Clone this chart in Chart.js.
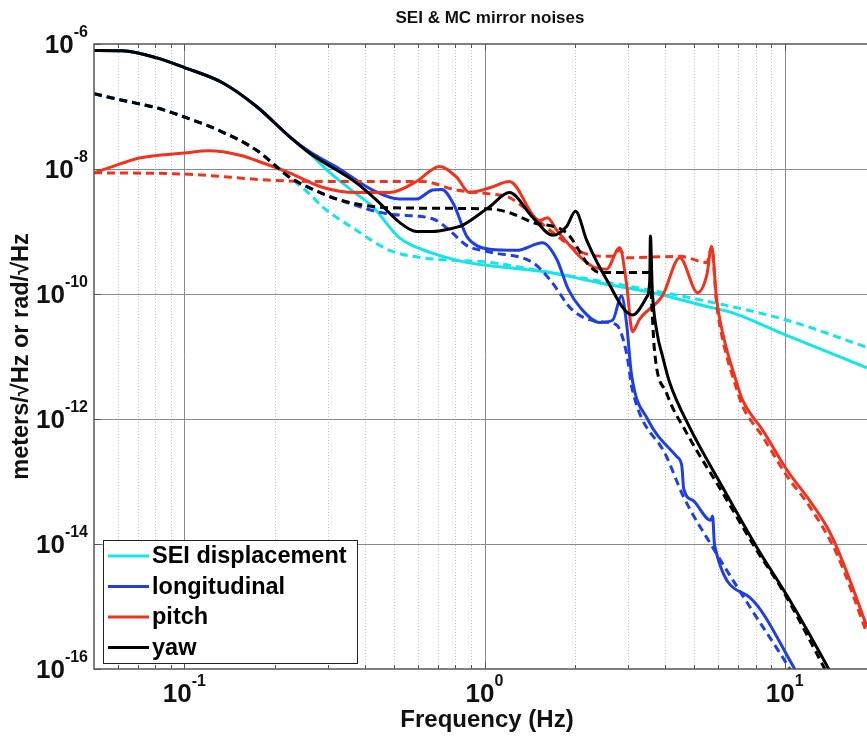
<!DOCTYPE html>
<html>
<head>
<meta charset="utf-8">
<script src="https://cdn.jsdelivr.net/npm/chart.js@4.4.1/dist/chart.umd.min.js"></script>
<style>
  html, body { margin: 0; padding: 0; background: #fff; overflow: hidden; }
  #noiseChart { display: block; }
</style>
</head>
<body>
<canvas id="noiseChart" width="867" height="736"></canvas>
<script>
// ---- data (frequency in Hz, amplitude spectral density) ----
const seiFreq = [0.05, 0.062, 0.081, 0.1, 0.134, 0.174, 0.224, 0.261, 0.304, 0.374, 0.424, 0.521, 0.671, 0.845, 1.0, 1.65, 2.42, 3.63, 5.5, 6.71, 10.1, 18.8];
const seiAsd = [7.9e-7, 7.8e-7, 6.0e-7, 4.2e-7, 2.4e-7, 1.0e-7, 3.3e-8, 1.8e-8, 8.9e-9, 4.0e-9, 2.5e-9, 7.9e-10, 4.5e-10, 3.3e-10, 2.9e-10, 2.2e-10, 1.5e-10, 1.05e-10, 6.3e-11, 5.0e-11, 2.2e-11, 6.6e-12];
const seiFreqDash = [0.05, 0.062, 0.081, 0.1, 0.134, 0.174, 0.224, 0.261, 0.288, 0.374, 0.482, 0.621, 1.04, 1.65, 3.11, 5.93, 10.2, 18.8];
const seiAsdDash = [1.6e-7, 1.26e-7, 9.5e-8, 6.8e-8, 3.9e-8, 2.0e-8, 7.4e-9, 4.0e-9, 2.5e-9, 1.05e-9, 5.0e-10, 3.8e-10, 3.2e-10, 2.2e-10, 1.3e-10, 7.1e-11, 3.8e-11, 1.4e-11];

const longFreq = [0.05, 0.062, 0.081, 0.1, 0.134, 0.174, 0.224, 0.261, 0.329, 0.424, 0.521, 0.593, 0.671, 0.72, 0.79, 0.871, 0.94, 1.04, 1.28, 1.56, 1.74, 1.9, 2.1, 2.42, 2.67, 2.86, 2.97, 3.09, 3.49, 4.37, 4.54, 4.61, 4.94, 5.67, 5.75, 5.84, 7.64, 10.8, 12];
const longAsd = [7.9e-7, 7.8e-7, 6.0e-7, 4.2e-7, 2.4e-7, 1.0e-7, 3.3e-8, 1.9e-8, 1.0e-8, 4.6e-9, 3.3e-9, 3.3e-9, 4.6e-9, 4.7e-9, 2.7e-9, 8.5e-10, 6.0e-10, 5.2e-10, 5.0e-10, 6.6e-10, 3.6e-10, 1.2e-10, 5.8e-11, 3.5e-11, 3.8e-11, 9.3e-11, 3.5e-11, 5.0e-12, 1.0e-12, 2.5e-13, 1.8e-13, 7.6e-14, 5.0e-14, 2.4e-14, 2.8e-14, 9.5e-15, 1.4e-15, 1.0e-16, 4e-17];
const longFreqDash = [0.05, 0.062, 0.081, 0.1, 0.134, 0.174, 0.224, 0.261, 0.329, 0.482, 0.671, 0.764, 0.871, 1.04, 1.445, 1.65, 1.965, 2.42, 2.75, 2.97, 3.11, 4.04, 4.61, 5.75, 7.64, 10.4, 12];
const longAsdDash = [1.6e-7, 1.26e-7, 9.5e-8, 6.8e-8, 3.9e-8, 2.0e-8, 7.4e-9, 5.0e-9, 3.2e-9, 1.9e-9, 1.6e-9, 1.05e-9, 6.0e-10, 4.7e-10, 3.2e-10, 1.7e-10, 5.5e-11, 3.6e-11, 3.2e-11, 1.15e-11, 2.9e-12, 2.5e-13, 5.6e-14, 8.9e-15, 1.0e-15, 1.0e-16, 3e-17];

const pitchFreq = [0.05, 0.0562, 0.0708, 0.1, 0.121, 0.153, 0.182, 0.224, 0.288, 0.374, 0.482, 0.593, 0.708, 0.807, 0.891, 1.04, 1.21, 1.525, 1.62, 1.74, 2.29, 2.55, 2.82, 2.97, 3.11, 3.29, 3.92, 4.47, 5.13, 5.5, 5.71, 5.93, 6.21, 6.92, 7.24, 8.45, 10.2, 12.1, 13.8, 14.9, 16.5, 18.8];
const pitchAsd = [8.7e-9, 1.05e-8, 1.5e-8, 1.8e-8, 1.95e-8, 1.66e-8, 1.26e-8, 8.7e-9, 5.1e-9, 4.2e-9, 4.2e-9, 6.3e-9, 1.1e-8, 7.4e-9, 4.2e-9, 5.0e-9, 6.3e-9, 1.5e-9, 1.66e-9, 1.05e-9, 2.75e-10, 2.5e-10, 5.5e-10, 1.5e-10, 2.5e-11, 4.0e-11, 9.5e-11, 3.8e-10, 1.05e-10, 2.0e-10, 5.8e-10, 8.3e-11, 2.4e-11, 3.8e-12, 2.0e-12, 6.6e-13, 1.5e-13, 5.0e-14, 1.9e-14, 8.9e-15, 2.6e-15, 4.7e-16];
const pitchFreqDash = [0.05, 0.1, 0.197, 0.288, 0.621, 0.807, 1.04, 1.21, 1.65, 2.12, 2.65, 2.82, 2.97, 4.47, 5.5, 5.71, 5.93, 6.21, 6.92, 7.24, 8.45, 10.2, 12.1, 14.9, 18.8];
const pitchAsdDash = [8.7e-9, 8.3e-9, 6.6e-9, 6.3e-9, 6.3e-9, 4.6e-9, 4.0e-9, 3.5e-9, 1.05e-9, 4.6e-10, 4.0e-10, 5.0e-10, 3.8e-10, 4.0e-10, 3.2e-10, 5.5e-10, 7.0e-11, 1.9e-11, 3.0e-12, 1.6e-12, 5.2e-13, 1.2e-13, 4.0e-14, 7.0e-15, 3.7e-16];

const yawFreq = [0.05, 0.062, 0.081, 0.1, 0.134, 0.174, 0.224, 0.261, 0.374, 0.436, 0.521, 0.593, 0.671, 0.764, 0.845, 1.04, 1.21, 1.445, 1.69, 1.876, 2.01, 2.19, 2.55, 3.11, 3.47, 3.55, 3.57, 3.62, 3.75, 3.92, 4.14, 4.82, 6.21, 8.07, 10.4, 14.1, 16];
const yawAsd = [7.9e-7, 7.8e-7, 6.0e-7, 4.2e-7, 2.4e-7, 1.0e-7, 3.3e-8, 1.8e-8, 6.0e-9, 3.2e-9, 1.4e-9, 1.0e-9, 1.0e-9, 1.1e-9, 1.26e-9, 2.5e-9, 4.2e-9, 1.7e-9, 8.7e-10, 1.2e-9, 2.1e-9, 7.2e-10, 1.7e-10, 4.6e-11, 8.9e-11, 1.6e-10, 8.5e-10, 1.2e-10, 2.5e-11, 1.0e-11, 3.8e-12, 7.4e-13, 8.1e-14, 8.9e-15, 1.26e-15, 9.5e-17, 3e-17];
const yawFreqDash = [0.05, 0.062, 0.081, 0.1, 0.134, 0.174, 0.224, 0.261, 0.329, 0.482, 1.04, 1.21, 1.445, 1.876, 2.24, 2.42, 3.55, 3.6, 3.68, 4.04, 4.71, 6.21, 8.07, 9.85, 13.6, 15];
const yawAsdDash = [1.6e-7, 1.26e-7, 9.5e-8, 6.8e-8, 3.9e-8, 2.0e-8, 7.4e-9, 5.0e-9, 3.2e-9, 2.4e-9, 2.3e-9, 2.0e-9, 1.4e-9, 9.5e-10, 2.8e-10, 2.2e-10, 2.2e-10, 7.9e-11, 1.3e-11, 2.6e-12, 6.0e-13, 6.6e-14, 7.9e-15, 1.8e-15, 1.0e-16, 4e-17];

// axis ticks
const xMajorTicks = [0.1, 1, 10];
const xTickExps = ['-1', '0', '1'];
const xMinorTicks = [0.06, 0.07, 0.08, 0.09, 0.2, 0.3, 0.4, 0.5, 0.6, 0.7, 0.8, 0.9, 2, 3, 4, 5, 6, 7, 8, 9];
const yMajorTicks = [1e-6, 1e-8, 1e-10, 1e-12, 1e-14, 1e-16];
const yTickExps = ['-6', '-8', '-10', '-12', '-14', '-16'];

const legendNames = ['SEI displacement', 'longitudinal', 'pitch', 'yaw'];
const colors = ['#12e6ea', '#1f3fe6', '#f2321c', '#000000'];

const FONT = '"Liberation Sans", Arial, sans-serif';

function pts(fs, vs) {
    return fs.map((f, i) => ({ x: f, y: vs[i] }));
}

function series(fs, vs, color, dashed, order) {
    return {
        data: pts(fs, vs),
        borderColor: color,
        borderWidth: 3,
        borderDash: dashed ? [8, 5] : [],
        pointRadius: 0,
        cubicInterpolationMode: 'monotone',
        fill: false,
        order: order
    };
}

// "10" with a raised exponent
function drawPow(ctx, x, y, exp, baseSize, expSize, align) {
    ctx.font = 'bold ' + baseSize + 'px ' + FONT;
    const wb = ctx.measureText('10').width;
    ctx.font = 'bold ' + expSize + 'px ' + FONT;
    const we = ctx.measureText(exp).width;
    const left = align === 'right' ? x - wb - we : x - (wb + we) / 2;
    ctx.textAlign = 'left';
    ctx.textBaseline = 'middle';
    ctx.font = 'bold ' + baseSize + 'px ' + FONT;
    ctx.fillText('10', left, y);
    ctx.font = 'bold ' + expSize + 'px ' + FONT;
    ctx.fillText(exp, left + wb, y - baseSize * 0.5);
}

const framePlugin = {
    id: 'frame',
    beforeDatasetsDraw(chart) {
        const ctx = chart.ctx;
        const a = chart.chartArea;
        const xs = chart.scales.x, ys = chart.scales.y;
        ctx.save();
        ctx.lineWidth = 1;
        // minor vertical grid (dotted)
        ctx.strokeStyle = '#c4c4c4';
        ctx.setLineDash([1, 2]);
        xMinorTicks.forEach(v => {
            const px = Math.round(xs.getPixelForValue(v)) + 0.5;
            ctx.beginPath(); ctx.moveTo(px, a.top); ctx.lineTo(px, a.bottom); ctx.stroke();
        });
        // major grid (solid)
        ctx.setLineDash([]);
        ctx.strokeStyle = '#8a8a8a';
        xMajorTicks.forEach(v => {
            const px = Math.round(xs.getPixelForValue(v)) + 0.5;
            ctx.beginPath(); ctx.moveTo(px, a.top); ctx.lineTo(px, a.bottom); ctx.stroke();
        });
        yMajorTicks.slice(1, -1).forEach(v => {
            const py = Math.round(ys.getPixelForValue(v)) + 0.5;
            ctx.beginPath(); ctx.moveTo(a.left, py); ctx.lineTo(a.right, py); ctx.stroke();
        });
        ctx.restore();
    },
    afterDatasetsDraw(chart) {
        const ctx = chart.ctx;
        const a = chart.chartArea;
        const xs = chart.scales.x, ys = chart.scales.y;
        ctx.save();
        // axes box
        ctx.strokeStyle = '#555';
        ctx.lineWidth = 1.5;
        ctx.beginPath();
        ctx.moveTo(a.right + 2, a.top); ctx.lineTo(a.left, a.top);
        ctx.lineTo(a.left, a.bottom); ctx.lineTo(a.right + 2, a.bottom);
        ctx.stroke();
        // tick marks
        ctx.lineWidth = 1;
        const tick = (v, len) => {
            const px = Math.round(xs.getPixelForValue(v)) + 0.5;
            ctx.beginPath(); ctx.moveTo(px, a.bottom); ctx.lineTo(px, a.bottom - len); ctx.stroke();
            ctx.beginPath(); ctx.moveTo(px, a.top); ctx.lineTo(px, a.top + len); ctx.stroke();
        };
        xMinorTicks.forEach(v => tick(v, 4));
        xMajorTicks.forEach(v => tick(v, 7));
        yMajorTicks.forEach(v => {
            const py = Math.round(ys.getPixelForValue(v)) + 0.5;
            ctx.beginPath(); ctx.moveTo(a.left, py); ctx.lineTo(a.left + 7, py); ctx.stroke();
        });

        // legend box
        const lx = 103, ly = 540, lw = 254, lh = 123;
        ctx.fillStyle = '#fff';
        ctx.fillRect(lx, ly, lw, lh);
        ctx.strokeStyle = '#222';
        ctx.lineWidth = 1;
        ctx.strokeRect(lx + 0.5, ly + 0.5, lw, lh);
        legendNames.forEach((name, i) => {
            const y = 556 + i * 30.5;
            ctx.strokeStyle = colors[i];
            ctx.lineWidth = 3;
            ctx.beginPath(); ctx.moveTo(108, y); ctx.lineTo(149, y); ctx.stroke();
            ctx.fillStyle = '#000';
            ctx.font = 'bold 23.5px ' + FONT;
            ctx.textAlign = 'left';
            ctx.textBaseline = 'middle';
            ctx.fillText(name, 152, y + 1);
        });

        // tick labels
        ctx.fillStyle = '#111';
        yMajorTicks.forEach((v, i) => {
            drawPow(ctx, 88, ys.getPixelForValue(v) + 2, yTickExps[i], 26, 16, 'right');
        });
        xMajorTicks.forEach((v, i) => {
            drawPow(ctx, xs.getPixelForValue(v), a.bottom + 26, xTickExps[i], 26, 16, 'center');
        });

        // titles
        ctx.fillStyle = '#111';
        ctx.textAlign = 'center';
        ctx.textBaseline = 'middle';
        ctx.font = 'bold 17px ' + FONT;
        ctx.fillText('SEI & MC mirror noises', 490, 18);
        ctx.font = 'bold 24px ' + FONT;
        ctx.fillText('Frequency (Hz)', 487, 720);
        ctx.translate(22, (a.top + a.bottom) / 2);
        ctx.rotate(-Math.PI / 2);
        ctx.font = 'bold 23.5px ' + FONT;
        ctx.fillText('meters/\u221AHz or rad/\u221AHz', 0, 0);
        ctx.restore();
    }
};

const ctx = document.getElementById('noiseChart').getContext('2d');
const noiseChart = new Chart(ctx, {
    type: 'line',
    data: {
        datasets: [
            series(yawFreq, yawAsd, colors[3], false, 1),
            series(yawFreqDash, yawAsdDash, colors[3], true, 2),
            series(pitchFreq, pitchAsd, colors[2], false, 3),
            series(pitchFreqDash, pitchAsdDash, colors[2], true, 4),
            series(longFreq, longAsd, colors[1], false, 5),
            series(longFreqDash, longAsdDash, colors[1], true, 6),
            series(seiFreq, seiAsd, colors[0], false, 7),
            series(seiFreqDash, seiAsdDash, colors[0], true, 8)
        ]
    },
    options: {
        responsive: false,
        animation: false,
        devicePixelRatio: 1,
        layout: { padding: { top: 44, right: 0, bottom: 0, left: 0 } },
        plugins: {
            legend: { display: false },
            tooltip: { enabled: false },
            title: { display: false }
        },
        scales: {
            x: {
                type: 'logarithmic',
                min: 0.05,
                max: 18.8,
                ticks: { display: false },
                grid: { display: false },
                border: { display: false },
                afterFit: s => { s.height = 67; }
            },
            y: {
                type: 'logarithmic',
                min: 1e-16,
                max: 1e-6,
                ticks: { display: false },
                grid: { display: false },
                border: { display: false },
                afterFit: s => { s.width = 94; }
            }
        }
    },
    plugins: [framePlugin]
});
</script>
</body>
</html>
